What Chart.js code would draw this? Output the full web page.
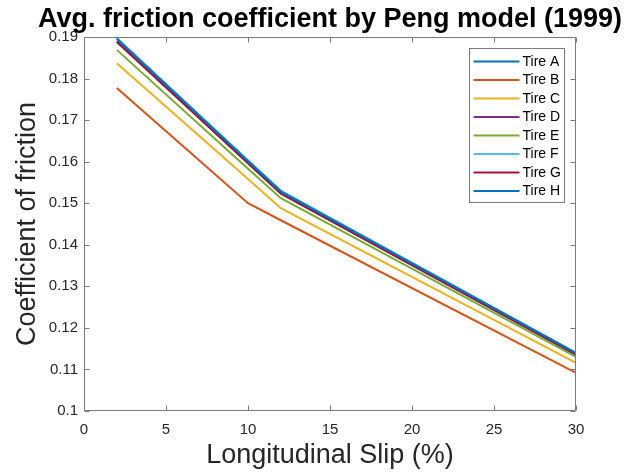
<!DOCTYPE html>
<html><head><meta charset="utf-8">
<script src="https://cdn.jsdelivr.net/npm/chart.js@4.4.1/dist/chart.umd.min.js"></script>
<style>html,body{margin:0;padding:0;background:#fff;}#wrap{width:628px;height:476px;}</style>
</head><body><div id="wrap"><canvas id="c" width="628" height="476"></canvas></div>
<script>
const chartTitle = 'Avg. friction coefficient by Peng model (1999)';
const xLabel = 'Longitudinal Slip (%)';
const yLabel = 'Coefficient of friction';
const slip = [2, 10, 12, 30];
const tireNames = ['Tire A', 'Tire B', 'Tire C', 'Tire D', 'Tire E', 'Tire F', 'Tire G', 'Tire H'];
const tireA = [0.1897, 0.1603, 0.1530, 0.1140];
const tireB = [0.1777, 0.1500, 0.1459, 0.1092];
const tireC = [0.1837, 0.1558, 0.1488, 0.1116];
const tireD = [0.1888, 0.1596, 0.1523, 0.1135];
const tireE = [0.1869, 0.1583, 0.1512, 0.1130];
const tireF = [0.1896, 0.1602, 0.1529, 0.1139];
const tireG = [0.1889, 0.1597, 0.1524, 0.1136];
const tireH = [0.1895, 0.1601, 0.1528, 0.1139];
const xTicks = [0, 5, 10, 15, 20, 25, 30];
const xTickLabels = ['0', '5', '10', '15', '20', '25', '30'];
const yTicks = [0.1, 0.11, 0.12, 0.13, 0.14, 0.15, 0.16, 0.17, 0.18, 0.19];
const yTickLabels = ['0.1', '0.11', '0.12', '0.13', '0.14', '0.15', '0.16', '0.17', '0.18', '0.19'];
const colors = ['#0072BD', '#D95319', '#EDB120', '#7E2F8E', '#77AC30', '#4DBEEE', '#A2142F', '#0072BD'];

const series = [tireA, tireB, tireC, tireD, tireE, tireF, tireG, tireH];
const FONT = "'Liberation Sans', Arial, Helvetica, sans-serif";
const AXIS_COLOR = '#262626';
const FRAME_COLOR = '#7a7a7a';

const datasets = series.map((vals, i) => ({
  label: tireNames[i],
  data: slip.map((x, j) => ({x: x, y: vals[j]})),
  borderColor: colors[i],
  backgroundColor: colors[i],
  borderWidth: 2,
  pointRadius: 0,
  tension: 0,
  fill: false,
  order: series.length - 1 - i
}));

const framePlugin = {
  id: 'frame',
  afterDatasetsDraw(chart) {
    const ctx = chart.ctx;
    const ca = chart.chartArea;
    const xs = chart.scales.x, ys = chart.scales.y;
    const L = Math.round(ca.left) + 0.5, R = Math.round(ca.right) - 0.5;
    const T = Math.round(ca.top) + 0.5, B = Math.round(ca.bottom) - 0.5;
    ctx.save();
    ctx.strokeStyle = FRAME_COLOR;
    ctx.lineWidth = 1;
    ctx.beginPath();
    ctx.rect(L, T, R - L, B - T);
    ctx.stroke();
    const tl = 5;
    ctx.beginPath();
    xTicks.forEach(v => {
      const px = Math.round(xs.getPixelForValue(v)) + 0.5;
      ctx.moveTo(px, B); ctx.lineTo(px, B - tl);
      ctx.moveTo(px, T); ctx.lineTo(px, T + tl);
    });
    yTicks.forEach(v => {
      const py = Math.round(ys.getPixelForValue(v)) + 0.5;
      ctx.moveTo(L, py); ctx.lineTo(L + tl, py);
      ctx.moveTo(R, py); ctx.lineTo(R - tl, py);
    });
    ctx.stroke();
    ctx.restore();
  },
  afterDraw(chart) {
    const ctx = chart.ctx;
    const ca = chart.chartArea;
    ctx.save();
    ctx.fillStyle = '#000';
    ctx.font = 'bold 27px ' + FONT;
    ctx.textAlign = 'center';
    ctx.textBaseline = 'alphabetic';
    ctx.fillText(chartTitle, (ca.left + ca.right) / 2, 27);
    const bw = 95, bh = 154;
    const bx = Math.round(ca.right - 12 - bw) + 0.5;
    const by = Math.round(ca.top + 11) + 0.5;
    ctx.fillStyle = '#fff';
    ctx.fillRect(bx, by, bw, bh);
    ctx.strokeStyle = FRAME_COLOR;
    ctx.lineWidth = 1;
    ctx.strokeRect(bx, by, bw, bh);
    ctx.font = '14px ' + FONT;
    ctx.textAlign = 'left';
    ctx.textBaseline = 'middle';
    chart.data.datasets.forEach((ds, i) => {
      const yy = by + 13 + i * 18.5;
      ctx.strokeStyle = ds.borderColor;
      ctx.lineWidth = 2;
      ctx.beginPath();
      ctx.moveTo(bx + 4, yy);
      ctx.lineTo(bx + 50, yy);
      ctx.stroke();
      ctx.fillStyle = '#000';
      ctx.fillText(ds.label, bx + 53, yy + 0.5);
    });
    ctx.restore();
  }
};

new Chart(document.getElementById('c'), {
  type: 'line',
  data: {datasets: datasets},
  options: {
    responsive: false,
    animation: false,
    events: [],
    layout: {padding: {top: 37, right: 52, left: 0, bottom: 0}},
    plugins: {legend: {display: false}, tooltip: {enabled: false}, title: {display: false}},
    scales: {
      x: {
        type: 'linear', min: 0, max: 30,
        afterBuildTicks: s => { s.ticks = xTicks.map(v => ({value: v})); },
        afterFit: s => { s.height = 65; },
        grid: {display: false, drawTicks: false},
        border: {display: false},
        ticks: {
          font: {family: FONT, size: 15}, color: AXIS_COLOR, padding: 10,
          maxRotation: 0, autoSkip: false,
          callback: (v) => { const k = xTicks.indexOf(v); return k >= 0 ? xTickLabels[k] : ''; }
        },
        title: {display: true, text: xLabel, color: AXIS_COLOR,
          font: {family: FONT, size: 27}, padding: {top: 0, bottom: 4}}
      },
      y: {
        type: 'linear', min: 0.1, max: 0.19,
        afterBuildTicks: s => { s.ticks = yTicks.map(v => ({value: v})); },
        afterFit: s => { s.width = 84; },
        grid: {display: false, drawTicks: false},
        border: {display: false},
        ticks: {
          font: {family: FONT, size: 15}, color: AXIS_COLOR, padding: 6,
          autoSkip: false,
          callback: (v) => { const k = yTicks.findIndex(t => Math.abs(t - v) < 1e-9); return k >= 0 ? yTickLabels[k] : ''; }
        },
        title: {display: true, text: yLabel, color: AXIS_COLOR,
          font: {family: FONT, size: 27}, padding: {top: 11, bottom: 0}}
      }
    }
  },
  plugins: [framePlugin]
});
</script>
</body></html>
